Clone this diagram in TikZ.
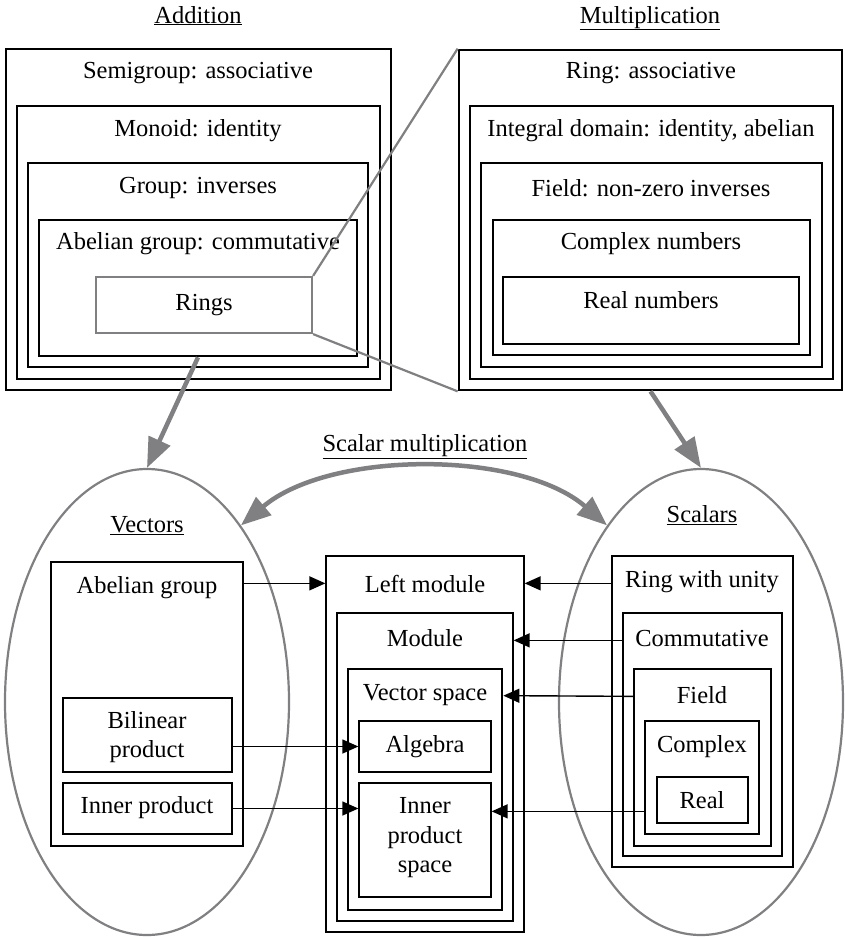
\documentclass[tikz,border=0pt]{standalone}
\usepackage{fontspec}
\setmainfont{Liberation Serif}
\usetikzlibrary{shapes.geometric,arrows.meta,fit}
\definecolor{gline}{RGB}{128,128,130}
\tikzset{
  box/.style={draw, line width=1.3pt, inner sep=0pt},
  thickbox/.style={draw, line width=2.7pt, inner sep=0pt},
  graybox/.style={draw=gline, line width=2.2pt, inner sep=0pt},
  txt/.style={font=\fontsize{24.5}{29.5}\selectfont, inner sep=0pt, align=center},
  arr/.style={line width=1.4pt, -{Triangle[length=16pt,width=14pt]}},
  garr/.style={draw=gline, line width=4.5pt, -{Triangle[length=30pt,width=23pt]}},
  gdarr/.style={draw=gline, line width=4.5pt, {Triangle[length=30pt,width=23pt]}-{Triangle[length=30pt,width=23pt]}},
  gline/.style={draw=gline, line width=2.2pt},
  oval/.style={ellipse, draw=gline, line width=2.2pt, inner sep=0pt, minimum width=284pt, minimum height=466pt}
}
\begin{document}
\begin{tikzpicture}[x=1pt, y=-1pt]
\useasboundingbox (0,0) rectangle (844,937);

% headers
\node[txt, anchor=base] (hadd) at (198,23) {\underline{Addition}};
\node[txt, anchor=base] (hmul) at (650,23) {\underline{Multiplication}};

% top-left nested boxes
\node[box, fit={(6,49)(391,390)}] (sg) {};
\node[box, fit={(17,106)(380,379)}] (mo) {};
\node[box, fit={(28,163)(368,367)}] (gr) {};
\node[thickbox, fit={(39,220)(357,356)}] (ab) {};
\node[graybox, fit={(96,277)(312,333)}] (rings) {};
\node[txt] (sgT) at (198,73) {Semigroup: associative};
\node[txt] (moT) at (198,131) {Monoid: identity};
\node[txt] (grT) at (198,188) {Group: inverses};
\node[txt] (abT) at (198,244) {Abelian group: commutative};
\node[txt] (ringsT) at (204,305) {Rings};

% top-right nested boxes
\node[thickbox, fit={(459,50)(842,390)}] (ring) {};
\node[box, fit={(470,106)(833,379)}] (idom) {};
\node[box, fit={(481,163)(822,367)}] (fld) {};
\node[box, fit={(493,220)(810,355)}] (cpx) {};
\node[box, fit={(503,277)(799,344)}] (rl) {};
\node[txt] (ringT) at (651,73) {Ring: associative};
\node[txt] (idomT) at (651,131) {Integral domain: identity, abelian};
\node[txt] (fldT) at (651,188) {Field: non-zero inverses};
\node[txt] (cpxT) at (651,244) {Complex numbers};
\node[txt] (rlT) at (651,300) {Real numbers};

% zoom lines
\draw[gline] (rings.north east) -- (ring.north west);
\draw[gline] (rings.south east) -- (ring.south west);

% ellipses
\node[oval] (vec) at (147,702) {};
\node[oval] (scal) at (701,702) {};
\node[txt] (vecT) at (147,526) {\underline{Vectors}};
\node[txt] (scalT) at (702,515) {\underline{Scalars}};
\node[txt] (smT) at (425,447) {\underline{Scalar multiplication}};

% gray arrows
\draw[garr] (ab.south) -- (vec.north);
\draw[garr] (ring.south) -- (scal.north);
\draw[gdarr] (vec.62) .. controls (330,450) and (520,450) .. (scal.118);

% left column
\node[box, fit={(51,562)(243,846)}] (agv) {};
\node[box, fit={(63,698)(232,772)}] (bil) {};
\node[box, fit={(63,783)(232,834)}] (inn) {};
\node[txt] (agvT) at (147,588) {Abelian group};
\node[txt] (bilT) at (147,737) {Bilinear\\product};
\node[txt] (innT) at (147,808) {Inner product};

% middle column
\node[box, fit={(326,556)(524,932)}] (lm) {};
\node[box, fit={(337,613)(513,921)}] (mod) {};
\node[thickbox, fit={(348,669)(502,910)}] (vs) {};
\node[box, fit={(359,721)(491,772)}] (alg) {};
\node[box, fit={(359,783)(491,897)}] (ips) {};
\node[txt] (lmT) at (425,584) {Left module};
\node[txt] (modT) at (425,638) {Module};
\node[txt] (vsT) at (425,695) {Vector space};
\node[txt] (algT) at (425,747) {Algebra};
\node[txt] (ipsT) at (425,838) {Inner\\product\\space};

% right column
\node[box, fit={(612,556)(793,867)}] (rwu) {};
\node[box, fit={(623,613)(782,856)}] (com) {};
\node[box, fit={(634,669)(771,846)}] (fi) {};
\node[box, fit={(645,721)(759,834)}] (cx) {};
\node[box, fit={(657,777)(748,823)}] (re) {};
\node[txt] (rwuT) at (702,582) {Ring with unity};
\node[txt] (comT) at (702,638) {Commutative};
\node[txt] (fiT) at (702,695) {Field};
\node[txt] (cxT) at (702,747) {Complex};
\node[txt] (reT) at (702,800) {Real};

% black arrows
\draw[arr] ([yshift=-22pt]agv.north east) -- ([yshift=-28pt]lm.north west);
\draw[arr] (bil.east |- alg.west) -- (alg.west);
\draw[arr] (inn.east) -- (inn.east -| ips.west);
\draw[arr] ([yshift=-28pt]rwu.north west) -- ([yshift=-28pt]lm.north east);
\draw[arr] ([yshift=-28pt]com.north west) -- ([yshift=-28pt]mod.north east);
\draw[arr] ([yshift=-28pt]fi.north west) -- ([yshift=-28pt]vs.north east);
\draw[arr] ([yshift=-91pt]cx.north west) -- ([yshift=-29pt]ips.north east);
\end{tikzpicture}
\end{document}
